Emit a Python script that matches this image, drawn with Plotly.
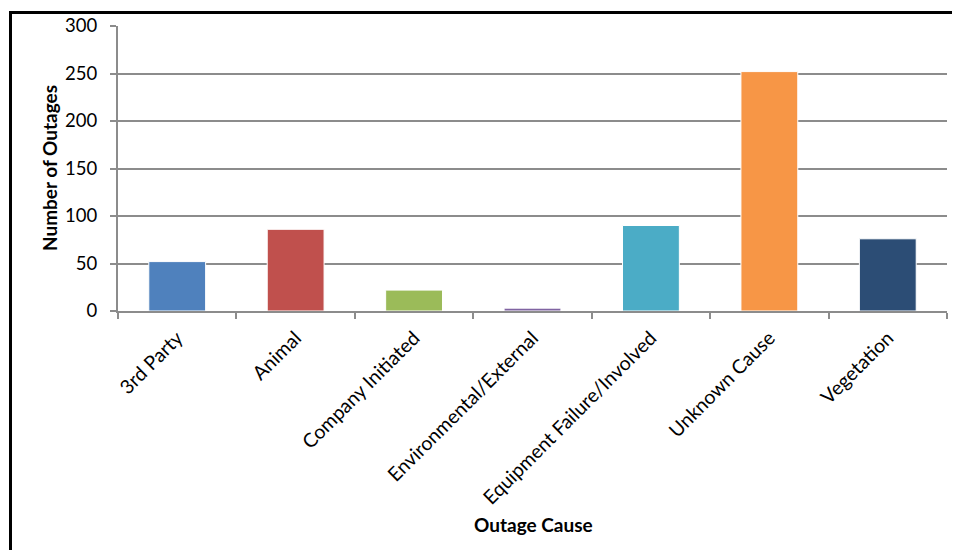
import plotly.graph_objects as go

# Outages by cause
causes = ['3rd Party', 'Animal', 'Company Initiated', 'Environmental/External',
          'Equipment Failure/Involved', 'Unknown Cause', 'Vegetation']
outages = [52, 86, 22, 3, 90, 252, 76]
bar_colors = ['#4F81BD', '#C0504D', '#9BBB59', '#8064A2',
              '#4BACC6', '#F79646', '#2C4D75']
y_ticks = [0, 50, 100, 150, 200, 250, 300]

W, H = 960, 550
OFF = 8  # page body margin, figure is drawn at (8, 8) in the window
L, T = 118 - OFF, 26 - OFF
pw, ph = 829, 285
R = W - L - pw
B = H - T - ph
grid = '#8C8C8C'
font = 'Lato, Carlito, Calibri, sans-serif'

fig = go.Figure(go.Bar(
    x=causes, y=outages,
    marker=dict(color=bar_colors, line=dict(color='white', width=1)),
))

fig.update_layout(
    width=W, height=H,
    margin=dict(l=L, r=R, t=T, b=B),
    paper_bgcolor='white', plot_bgcolor='white',
    showlegend=False,
    bargap=0.52,
    font=dict(family=font, size=18, color='black'),
)
fig.update_xaxes(
    type='category', tickangle=-45, tickson='boundaries', automargin=False,
    ticks='outside', ticklen=6, tickcolor=grid, tickwidth=2,
    showline=True, linecolor=grid, linewidth=2, ticklabelstandoff=6,
    showgrid=False, tickfont=dict(size=19.5),
)
fig.update_yaxes(
    range=[0, 300], tickvals=y_ticks, automargin=False,
    ticks='outside', ticklen=6, tickcolor=grid, tickwidth=2,
    showline=True, linecolor=grid, linewidth=2, ticklabelstandoff=9,
    showgrid=True, gridcolor=grid, gridwidth=2,
    zeroline=False, tickfont=dict(size=18.5),
)

# axis titles placed as annotations for exact positioning (screen px minus offset)
fig.add_annotation(text='<b>Outage Cause</b>', xref='paper', yref='paper',
                   x=(533 - OFF - L) / pw, y=-(524 - OFF - (T + ph)) / ph,
                   xanchor='center', yanchor='middle',
                   showarrow=False, font=dict(size=19))
fig.add_annotation(text='<b>Number of Outages</b>', xref='paper', yref='paper',
                   x=(49 - OFF - L) / pw, y=(ph - (168 - OFF - T)) / ph, textangle=-90,
                   xanchor='center', yanchor='middle',
                   showarrow=False, font=dict(size=19))

# chart frame (left and top edges visible, others fall outside the image)
x0 = (10.5 - OFF - L) / pw
y1 = 1 + (T - (12.5 - OFF)) / ph
fig.add_shape(type='rect', xref='paper', yref='paper',
              x0=x0, x1=(W + 20 - L) / pw, y0=-(B + 20) / ph, y1=y1,
              line=dict(color='black', width=3), layer='above')

fig.write_html('out.html')
